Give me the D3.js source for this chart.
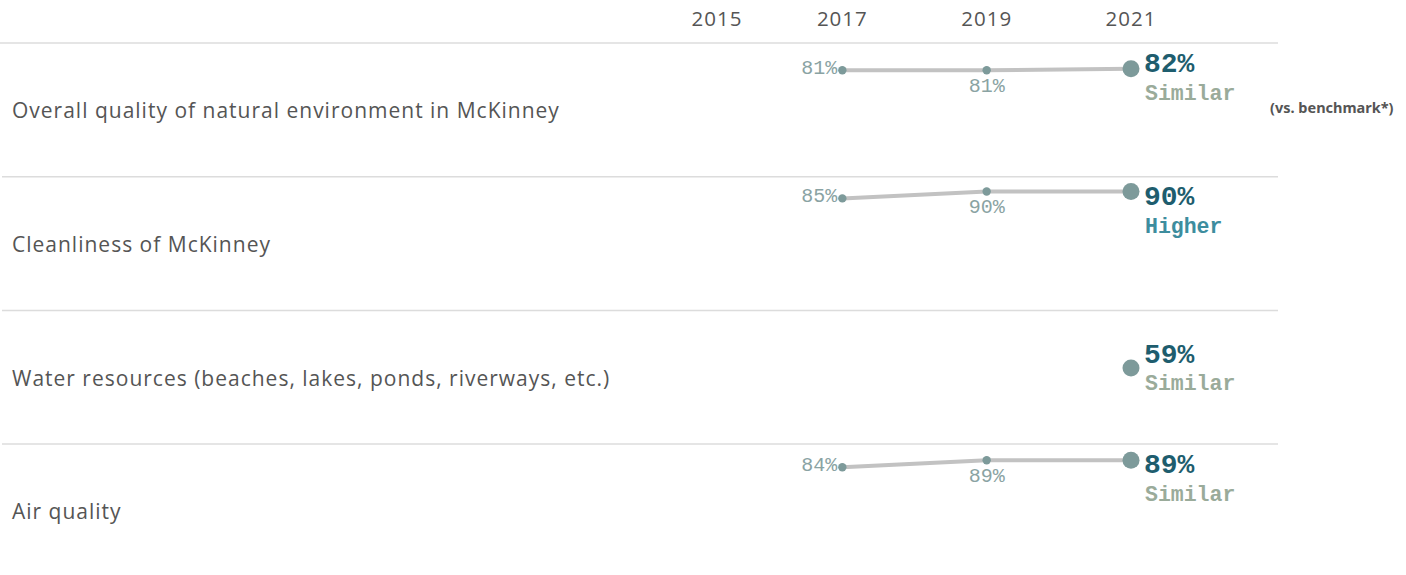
<!DOCTYPE html>
<html>
<head>
<meta charset="utf-8">
<script src="https://cdn.jsdelivr.net/npm/d3@7"></script>
<style>
body{margin:0;background:#fff;}
</style>
</head>
<body>
<div id="chart"></div>
<script>
// data
let years=[2015,2017,2019,2021];
let items=['Overall quality of natural environment in McKinney','Cleanliness of McKinney','Water resources (beaches, lakes, ponds, riverways, etc.)','Air quality'];
let v2017=[81,85,null,84];
let v2019=[81,90,null,89];
let v2021=[82,90,59,89];
let benchmark=['Similar','Higher','Similar','Similar'];

let width=1406,height=575;
let top0=43,rowH=133.7;
let paneLeft=690,paneRight=1278;
let sans='"Open Sans", "Noto Sans", sans-serif';
let mono='"Liberation Mono", "Courier New", monospace';

let svg=d3.select('#chart').append('svg').attr('width',width).attr('height',height);

let x=d3.scaleLinear().domain([2015,2021]).range([698,1131]);
let row=d3.scaleBand().domain(items).range([top0,top0+rowH*items.length]);
let y=d3.scaleLinear().domain([0,100]).range([139,1]);

let benchColor={'Similar':'#9aab9a','Higher':'#3d8d9e','Lower':'#c26a4a'};

// header years
svg.selectAll('.year').data(years).enter().append('text')
    .attr('class','year')
    .attr('x',d=>Math.max(x(d),paneLeft+27))
    .attr('y',26)
    .attr('text-anchor','middle')
    .attr('font-family',sans)
    .attr('font-size','20.5px')
    .attr('letter-spacing','1px')
    .attr('fill','#555')
    .text(d=>d);

// header line
svg.append('line').attr('x1',0).attr('x2',paneRight).attr('y1',top0).attr('y2',top0)
    .attr('stroke','#dcdcdc').attr('stroke-width',1.5);

items.forEach((name,i)=>{
    let t=row(name);
    let g=svg.append('g').attr('transform','translate(0,'+t+')');
    // separator
    if(i<items.length-1) {
        g.append('line').attr('x1',2).attr('x2',paneRight).attr('y1',row.bandwidth()).attr('y2',row.bandwidth())
            .attr('stroke','#dcdcdc').attr('stroke-width',1.5);
    }
    g.append('text').attr('x',12).attr('y',row.bandwidth()/2+1).attr('dy','0.35em')
        .attr('font-family',sans).attr('font-size','21px').attr('letter-spacing','1px').attr('fill','#555')
        .text(name);

    let pts=[[2017,v2017[i]],[2019,v2019[i]],[2021,v2021[i]]].filter(p=>p[1]!=null);
    if(pts.length>1) {
        g.append('path').datum(pts)
            .attr('d',d3.line().x(p=>x(p[0])).y(p=>y(p[1])))
            .attr('fill','none').attr('stroke','#c2c2c2').attr('stroke-width',4);
    }
    pts.forEach(p=>{
        let big=p[0]===2021;
        g.append('circle').attr('cx',x(p[0])).attr('cy',y(p[1])).attr('r',big?8.5:4.2).attr('fill','#7d9a9a');
        if(p[0]===2017) {
            g.append('text').attr('x',x(p[0])-5).attr('y',y(p[1])).attr('dy','0.2em')
                .attr('text-anchor','end').attr('font-family',mono).attr('font-size','20px')
                .attr('fill','#8aa3a3').text(p[1]+'%');
        }
        if(p[0]===2019) {
            g.append('text').attr('x',x(p[0])).attr('y',y(p[1])+22)
                .attr('text-anchor','middle').attr('font-family',mono).attr('font-size','20px')
                .attr('fill','#8aa3a3').text(p[1]+'%');
        }
        if(big) {
            let ty=Math.max(19,y(p[1])-15);
            g.append('text').attr('x',x(p[0])+13).attr('y',ty).attr('dy','0.35em')
                .attr('font-family',mono).attr('font-size','28px').attr('font-weight','bold')
                .attr('fill','#1e5d6e').text(p[1]+'%');
            g.append('text').attr('x',x(p[0])+14).attr('y',ty+30).attr('dy','0.35em')
                .attr('font-family',mono).attr('font-size','21.5px').attr('font-weight','bold')
                .attr('fill',benchColor[benchmark[i]]).text(benchmark[i]);
            if(i===0) {
                g.append('text').attr('x',1270).attr('y',ty+51)
                    .attr('font-family','"Noto Sans", sans-serif').attr('font-size','14.5px').attr('font-weight','bold')
                    .attr('fill','#555').text('(vs. benchmark*)');
            }
        }
    });
});
</script>
</body>
</html>
